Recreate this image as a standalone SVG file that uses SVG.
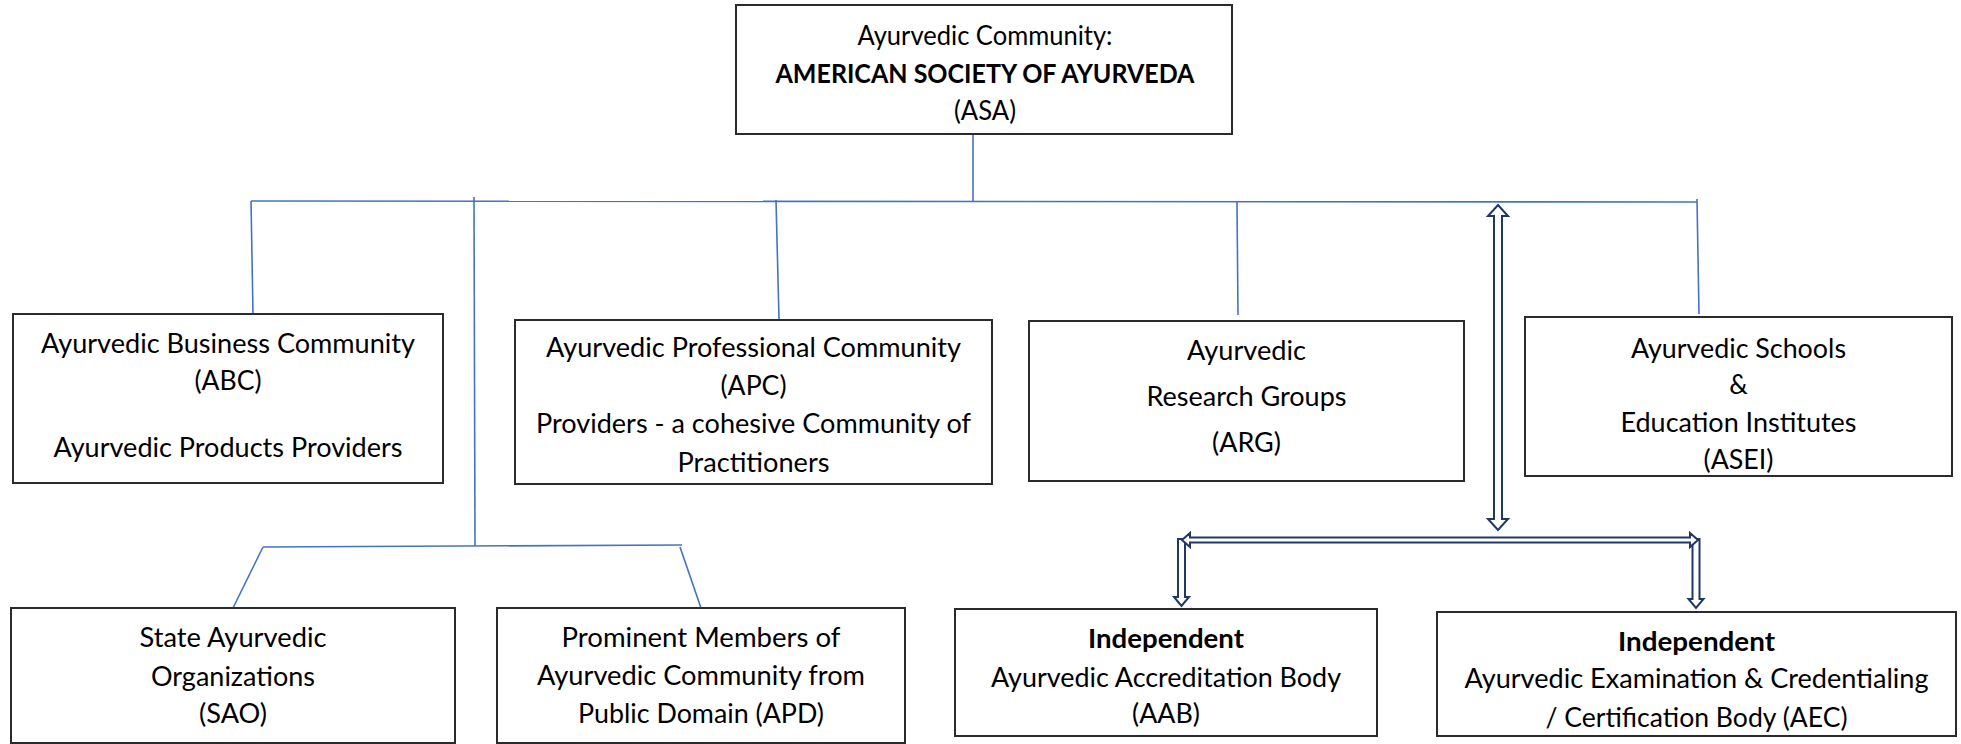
<svg xmlns="http://www.w3.org/2000/svg" width="1961" height="744" viewBox="0 0 1961 744">
<style>
.box{fill:#fff;stroke:#2b2b2b;stroke-width:2}
.t{font-family:Lato,"Liberation Sans",sans-serif;font-size:26px;fill:#000;text-anchor:middle}
.b{font-weight:bold}
.c{fill:none;stroke:#4472C4;stroke-width:1.6}
.da{fill:#fff;stroke:#1F3864;stroke-width:2;stroke-linejoin:miter}
</style>
<rect width="1961" height="744" fill="#fff"/>
<g id="connectors">
<line class="c" x1="973" y1="134" x2="973" y2="201"/>
<line class="c" x1="251" y1="201" x2="1697" y2="202"/>
<line class="c" x1="251" y1="201" x2="253" y2="314"/>
<line class="c" x1="474" y1="197" x2="475" y2="546"/>
<line class="c" x1="776" y1="200" x2="779" y2="319"/>
<line class="c" x1="1237" y1="202" x2="1238" y2="315"/>
<line class="c" x1="1697" y1="199" x2="1699" y2="314"/>
<line class="c" x1="263" y1="547" x2="682" y2="545"/>
<line class="c" x1="263" y1="547" x2="233" y2="608"/>
<line class="c" x1="680" y1="547" x2="701" y2="608"/>
<polygon class="da" points="1498,205 1508,216 1502,216 1502,519 1508,519 1498,530 1488,519 1494,519 1494,216 1488,216"/>
<polygon class="da" points="1178,539 1185,539 1185,597 1189,597 1181.5,606 1174,597 1178,597"/>
<polygon class="da" points="1692.5,539 1699.5,539 1699.5,599 1703.5,599 1696,608 1688.5,599 1692.5,599"/>
<polygon class="da" points="1182,540 1190,533 1190,537.5 1690,537.5 1690,533 1698,540 1690,547 1690,542.5 1190,542.5 1190,547"/>
</g>
<g id="asa">
<rect class="box" x="736" y="5" width="496" height="129"/>
<text class="t" x="985" y="45" textLength="255" lengthAdjust="spacingAndGlyphs">Ayurvedic Community:</text>
<text class="t b" x="985" y="83" textLength="419" lengthAdjust="spacingAndGlyphs">AMERICAN SOCIETY OF AYURVEDA</text>
<text class="t" x="985" y="120" textLength="62" lengthAdjust="spacingAndGlyphs">(ASA)</text>
</g>
<g id="abc">
<rect class="box" x="13" y="314" width="430" height="169"/>
<text class="t" x="228" y="353" textLength="374" lengthAdjust="spacingAndGlyphs">Ayurvedic Business Community</text>
<text class="t" x="228" y="390" textLength="67" lengthAdjust="spacingAndGlyphs">(ABC)</text>
<text class="t" x="228" y="457" textLength="349" lengthAdjust="spacingAndGlyphs">Ayurvedic Products Providers</text>
</g>
<g id="apc">
<rect class="box" x="515" y="320" width="477" height="164"/>
<text class="t" x="753.5" y="357" textLength="415" lengthAdjust="spacingAndGlyphs">Ayurvedic Professional Community</text>
<text class="t" x="753.5" y="395" textLength="66" lengthAdjust="spacingAndGlyphs">(APC)</text>
<text class="t" x="753.5" y="433" textLength="435" lengthAdjust="spacingAndGlyphs">Providers - a cohesive Community of</text>
<text class="t" x="753.5" y="472" textLength="152" lengthAdjust="spacingAndGlyphs">Practitioners</text>
</g>
<g id="arg">
<rect class="box" x="1029" y="321" width="435" height="160"/>
<text class="t" x="1246.5" y="360" textLength="119" lengthAdjust="spacingAndGlyphs">Ayurvedic</text>
<text class="t" x="1246.5" y="406" textLength="200" lengthAdjust="spacingAndGlyphs">Research Groups</text>
<text class="t" x="1246.5" y="452" textLength="69" lengthAdjust="spacingAndGlyphs">(ARG)</text>
</g>
<g id="asei">
<rect class="box" x="1525" y="317" width="427" height="159"/>
<text class="t" x="1738.5" y="358" textLength="215" lengthAdjust="spacingAndGlyphs">Ayurvedic Schools</text>
<text class="t" x="1738.5" y="394">&amp;</text>
<text class="t" x="1738.5" y="432" textLength="236" lengthAdjust="spacingAndGlyphs">Education Institutes</text>
<text class="t" x="1738.5" y="469" textLength="70" lengthAdjust="spacingAndGlyphs">(ASEI)</text>
</g>
<g id="sao">
<rect class="box" x="11" y="608" width="444" height="135"/>
<text class="t" x="233" y="647" textLength="187" lengthAdjust="spacingAndGlyphs">State Ayurvedic</text>
<text class="t" x="233" y="686" textLength="164" lengthAdjust="spacingAndGlyphs">Organizations</text>
<text class="t" x="233" y="723" textLength="68" lengthAdjust="spacingAndGlyphs">(SAO)</text>
</g>
<g id="apd">
<rect class="box" x="497" y="608" width="408" height="135"/>
<text class="t" x="701" y="647" textLength="279" lengthAdjust="spacingAndGlyphs">Prominent Members of</text>
<text class="t" x="701" y="685" textLength="328" lengthAdjust="spacingAndGlyphs">Ayurvedic Community from</text>
<text class="t" x="701" y="723" textLength="246" lengthAdjust="spacingAndGlyphs">Public Domain (APD)</text>
</g>
<g id="aab">
<rect class="box" x="955" y="609" width="422" height="127"/>
<text class="t b" x="1166" y="648" textLength="156" lengthAdjust="spacingAndGlyphs">Independent</text>
<text class="t" x="1166" y="687" textLength="350" lengthAdjust="spacingAndGlyphs">Ayurvedic Accreditation Body</text>
<text class="t" x="1166" y="723" textLength="68" lengthAdjust="spacingAndGlyphs">(AAB)</text>
</g>
<g id="aec">
<rect class="box" x="1437" y="612" width="519" height="124"/>
<text class="t b" x="1696.5" y="651" textLength="157" lengthAdjust="spacingAndGlyphs">Independent</text>
<text class="t" x="1696.5" y="688" textLength="464" lengthAdjust="spacingAndGlyphs">Ayurvedic Examination &amp; Credentialing</text>
<text class="t" x="1696.5" y="727" textLength="302" lengthAdjust="spacingAndGlyphs">/ Certification Body (AEC)</text>
</g>
</svg>
